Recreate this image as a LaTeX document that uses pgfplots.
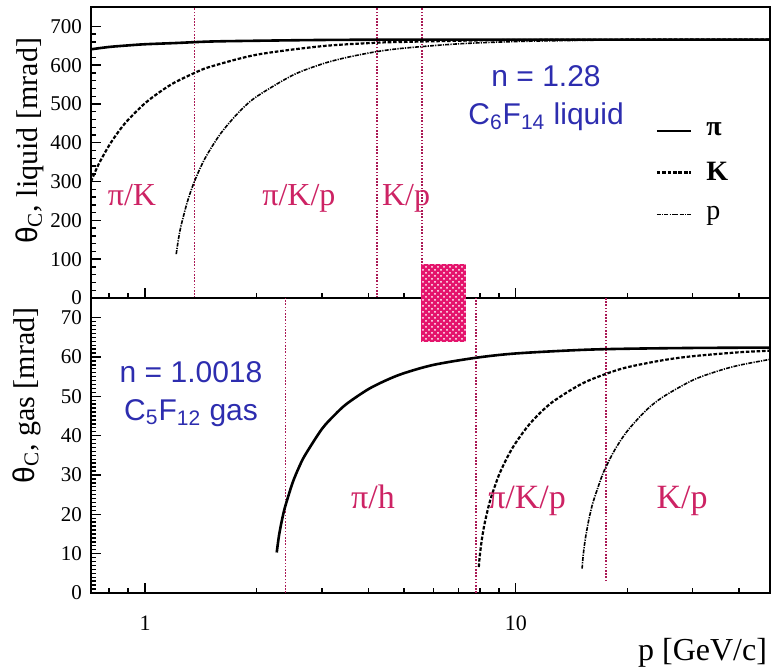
\documentclass[border=0pt]{standalone}
\usepackage{fontspec}
\setmainfont{Liberation Serif}
\setsansfont{Liberation Sans}
\usepackage{pgfplots}
\pgfplotsset{compat=1.18}
\usetikzlibrary{patterns}
\definecolor{reg}{RGB}{205,35,100}
\definecolor{vl}{RGB}{170,25,85}
\definecolor{blu}{RGB}{45,45,175}
\definecolor{mag}{RGB}{228,20,108}

\tikzset{
  vline/.style={vl, line width=0.8pt, dash pattern=on 0.8pt off 0.8pt},
  pis/.style={black, line width=1.3pt, smooth},
  ks/.style={black, line width=1.1pt, dash pattern=on 1.8pt off 0.9pt, smooth},
  ps/.style={black, line width=0.8pt, dash pattern=on 2pt off 0.6pt on 0.6pt off 0.6pt, smooth},
  regl/.style={reg, anchor=base},
}

\begin{document}
\begin{tikzpicture}
\useasboundingbox (0,0) rectangle (386pt,-334.5pt);

% ---------------- top panel: liquid ----------------
\begin{axis}[
  scale only axis, width=339.5pt, height=145.5pt,
  at={(45.5pt,-3.5pt)}, anchor=north west,
  xmode=log, xmin=0.715, xmax=48.5,
  ymin=0, ymax=750,
  axis line style={line width=1pt},
  tick style={black, line width=0.7pt},
  major tick length=5pt, minor tick length=2.5pt,
  xtick={1,10}, xticklabels={},
  minor xtick={0.8,0.9,2,3,4,5,6,7,8,9,20,30,40},
  xtick pos=lower, ytick pos=left,
  ytick={0,100,...,700}, minor y tick num=4,
  yticklabel style={font=\fontsize{10.5}{10.5}\selectfont, xshift=-1pt, /pgf/number format/assume math mode=true},
  ylabel={{\sffamily θ}\textsubscript{C}, liquid [mrad]},
  ylabel style={at={(axis description cs:-0.09,0.54)}, anchor=center, font=\fontsize{15}{15}\selectfont},
  legend style={at={(0.822,0.63)}, anchor=north west, draw=none, fill=none,
    font=\fontsize{14}{14}\selectfont, row sep=7.5pt,
    /tikz/every odd column/.append style={column sep=5pt}},
  legend cell align=left,
]
\addplot[vline, forget plot] coordinates {(1.36,0) (1.36,750)};
\addplot[vline, forget plot] coordinates {(4.22,0) (4.22,750)};
\addplot[vline, forget plot] coordinates {(5.58,0) (5.58,750)};

\addplot[pis] coordinates {(0.715,641) (0.8,647) (0.9,651) (1,654) (1.2,657) (1.5,661) (2,663) (3,665) (5,666) (10,666) (48.5,666)};
\addlegendentry{\textbf{π}}
\addplot[ks] coordinates {(0.715,300) (0.72,307) (0.75,345) (0.8,393) (0.85,430) (0.9,459) (1,502) (1.1,532) (1.2,555) (1.36,580) (1.5,596) (2,627) (3,649) (4.22,658) (5,660) (7,663) (10,665) (20,666) (48.5,666)};
\addlegendentry{\textbf{K}}
\addplot[ps] coordinates {(1.214,113) (1.23,150) (1.25,185) (1.3,247) (1.36,301) (1.45,359) (1.6,424) (1.8,481) (2,519) (2.5,574) (3,603) (3.5,620) (4.22,635) (5,644) (7,655) (10,661) (15,664) (20,665) (48.5,666)};
\addlegendentry{p}

\node[regl, font=\fontsize{16}{16}\selectfont] at (axis cs:0.922,239) {π/K};
\node[regl, font=\fontsize{16}{16}\selectfont] at (axis cs:2.60,239) {π/K/p};
\node[regl, font=\fontsize{16}{16}\selectfont] at (axis cs:5.06,239) {K/p};
\node[blu, align=center, font=\sffamily\fontsize{15}{19}\selectfont] at (axis cs:12.07,515) {n = 1.28\\C\textsubscript{6}F\textsubscript{14} liquid};
\end{axis}

% ---------------- bottom panel: gas ----------------
\begin{axis}[
  scale only axis, width=339.5pt, height=147.5pt,
  at={(45.5pt,-149pt)}, anchor=north west,
  xmode=log, xmin=0.715, xmax=48.5,
  ymin=0, ymax=75,
  axis line style={line width=1pt},
  tick style={black, line width=0.7pt},
  major tick length=5pt, minor tick length=2.5pt,
  xtick={1,10}, xticklabels={1,10},
  minor xtick={0.8,0.9,2,3,4,5,6,7,8,9,20,30,40},
  xtick pos=lower, ytick pos=left,
  ytick={0,10,...,70}, minor y tick num=9,
  yticklabel style={font=\fontsize{10.5}{10.5}\selectfont, xshift=-1pt, /pgf/number format/assume math mode=true},
  xticklabel style={font=\fontsize{11}{11}\selectfont, yshift=-8pt},
  clip=false,
  ylabel={{\sffamily θ}\textsubscript{C}, gas [mrad]},
  ylabel style={at={(axis description cs:-0.095,0.67)}, anchor=center, font=\fontsize{15}{15}\selectfont},
  xlabel={p [GeV/c]},
  xlabel style={at={(axis description cs:1,-0.203)}, anchor=east, xshift=2pt, font=\fontsize{16}{16}\selectfont},
]
\addplot[vline] coordinates {(2.39,0) (2.39,75)};
\addplot[vline] coordinates {(7.8,0) (7.8,75)};
\addplot[vline] coordinates {(17.5,3) (17.5,75)};

\addplot[draw=none, fill=mag, postaction={pattern=crosshatch dots, pattern color=white}]
  coordinates {(5.55,63.8) (7.35,63.8) (7.35,83.7) (5.55,83.7)};

\addplot[pis] coordinates {(2.266,10.3) (2.3,14.8) (2.35,19.3) (2.39,22.1) (2.5,28.0) (2.6,31.9) (2.7,35.0) (3,41.7) (3.25,45.3) (3.5,48.1) (4,51.8) (4.5,54.2) (5,55.9) (6,58.0) (7.8,59.8) (10,60.9) (15,61.8) (20,62.1) (30,62.3) (48.5,62.4)};
\addplot[ks] coordinates {(7.95,6.6) (8.0,9.6) (8.1,13.6) (8.2,16.6) (8.3,19.0) (8.45,22.1) (8.6,24.6) (9,29.9) (9.5,34.6) (10,38.2) (11,43.4) (12.5,48.4) (15,53.1) (17.5,55.7) (20,57.4) (25,59.2) (30,60.2) (40,61.2) (48.5,61.6)};
\addplot[ps] coordinates {(15.1,6.2) (15.2,9.5) (15.4,13.7) (15.7,18.1) (15.95,21.0) (16.2,23.4) (17,29.2) (17.5,32.0) (18.5,36.4) (20,41.2) (22.5,46.5) (25,49.9) (30,54.1) (35,56.4) (40,57.9) (48.5,59.4)};

\node[regl, font=\fontsize{17}{17}\selectfont] at (axis cs:4.12,21.6) {π/h};
\node[regl, font=\fontsize{17}{17}\selectfont] at (axis cs:10.73,21.6) {π/K/p};
\node[regl, font=\fontsize{17}{17}\selectfont] at (axis cs:28.1,21.6) {K/p};
\node[blu, align=center, font=\sffamily\fontsize{15}{19}\selectfont] at (axis cs:1.331,50.6) {n = 1.0018\\C\textsubscript{5}F\textsubscript{12} gas};
\end{axis}
\end{tikzpicture}
\end{document}
